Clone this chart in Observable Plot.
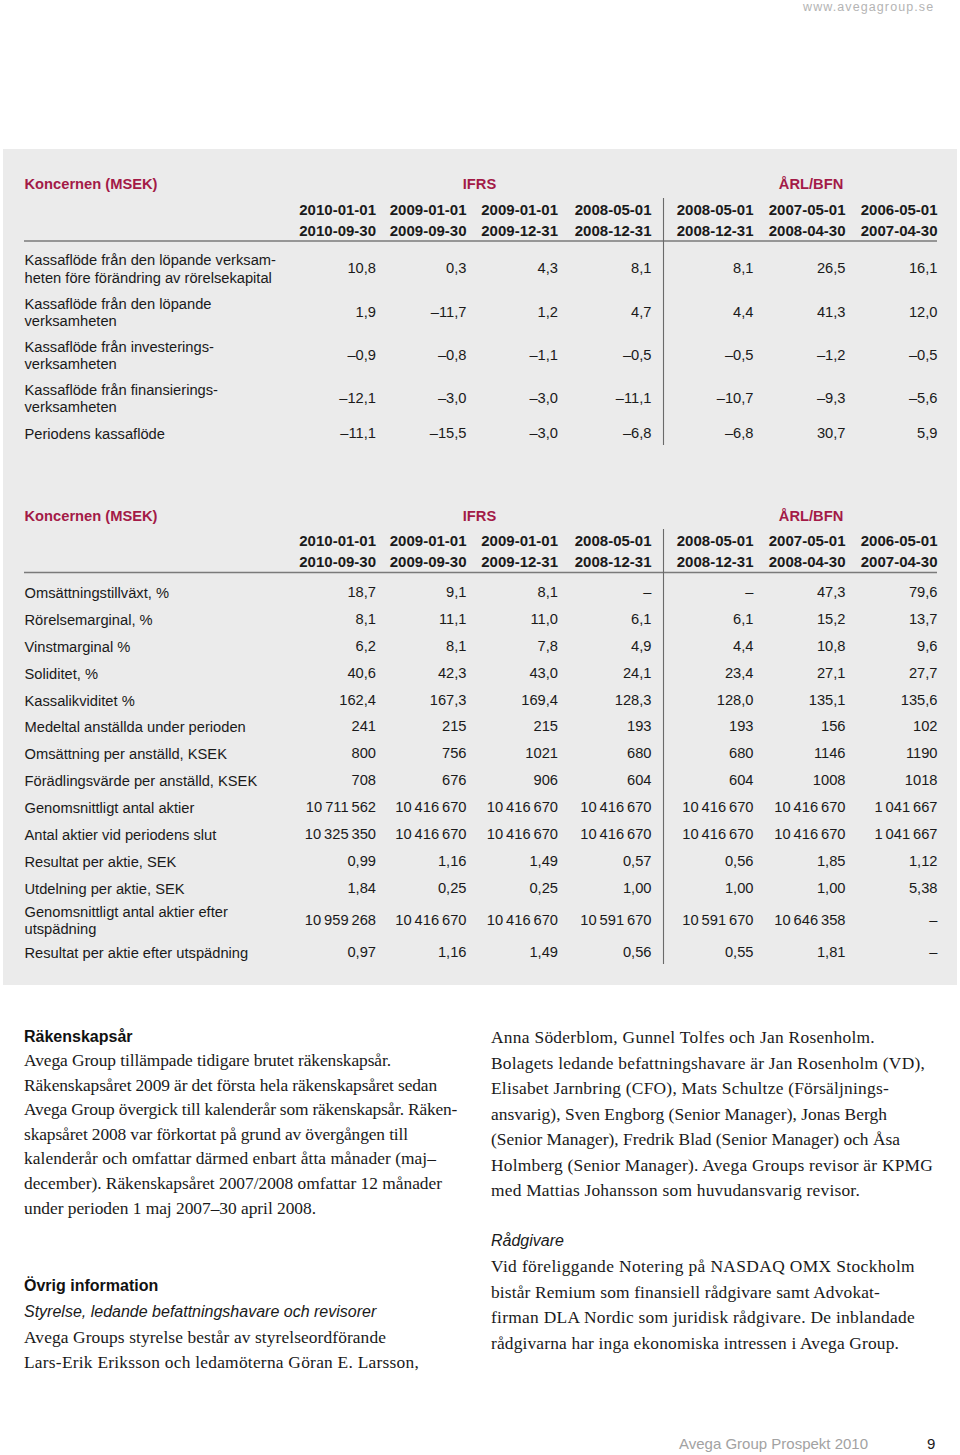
<!DOCTYPE html>
<html><head><meta charset="utf-8">
<script src="https://cdn.jsdelivr.net/npm/d3@7"></script>
<script src="https://cdn.jsdelivr.net/npm/@observablehq/plot@0.6"></script>
<style>
html,body{margin:0;padding:0;background:#fff;}
#page{position:relative;width:960px;height:1455px;overflow:hidden;font-family:"Liberation Sans",Arial,Helvetica,sans-serif;color:#1a1a1a;}
#panel{position:absolute;left:3px;top:149px;width:954px;height:836px;background:#ebebeb;}
.abs{position:absolute;white-space:nowrap;height:24px;line-height:24px;}
.serif{font-family:"Liberation Serif","Times New Roman",serif;font-size:17.4px;color:#1a1a1a;}
.hd{font-weight:bold;font-size:16px;color:#111;}
.it{font-style:italic;font-size:16px;color:#1a1a1a;}
.chart{position:absolute;left:0;}
#url{position:absolute;left:803px;top:1px;font-size:12.5px;letter-spacing:1.1px;color:#b4b4b4;line-height:13px;}
.foot{font-size:15px;color:#a2a2a2;}
.pageno{font-size:15px;color:#1a1a1a;}
</style></head>
<body><div id="page">
<div id="url">www.avegagroup.se</div>
<div id="panel"></div>
<div id="t1" class="chart" style="top:150px"></div>
<div id="t2" class="chart" style="top:490px"></div>
</div>
<script>
// ---------- data ----------
const tableTitle = "Koncernen (MSEK)";
const standards = ["IFRS", "ÅRL/BFN"];
const periodStart = ["2010-01-01","2009-01-01","2009-01-01","2008-05-01","2008-05-01","2007-05-01","2006-05-01"];
const periodEnd   = ["2010-09-30","2009-09-30","2009-12-31","2008-12-31","2008-12-31","2008-04-30","2007-04-30"];

const cashFlowLabels = [
  "Kassaflöde från den löpande verksam-\nheten före förändring av rörelsekapital",
  "Kassaflöde från den löpande\nverksamheten",
  "Kassaflöde från investerings-\nverksamheten",
  "Kassaflöde från finansierings-\nverksamheten",
  "Periodens kassaflöde"
];
const cashFlowValues = [
  [10.8, 0.3, 4.3, 8.1, 8.1, 26.5, 16.1],
  [1.9, -11.7, 1.2, 4.7, 4.4, 41.3, 12.0],
  [-0.9, -0.8, -1.1, -0.5, -0.5, -1.2, -0.5],
  [-12.1, -3.0, -3.0, -11.1, -10.7, -9.3, -5.6],
  [-11.1, -15.5, -3.0, -6.8, -6.8, 30.7, 5.9]
];
const cashFlowDecimals = [1, 1, 1, 1, 1];

const keyRatioLabels = [
  "Omsättningstillväxt, %",
  "Rörelsemarginal, %",
  "Vinstmarginal %",
  "Soliditet, %",
  "Kassalikviditet %",
  "Medeltal anställda under perioden",
  "Omsättning per anställd, KSEK",
  "Förädlingsvärde per anställd, KSEK",
  "Genomsnittligt antal aktier",
  "Antal aktier vid periodens slut",
  "Resultat per aktie, SEK",
  "Utdelning per aktie, SEK",
  "Genomsnittligt antal aktier efter\nutspädning",
  "Resultat per aktie efter utspädning"
];
const keyRatioValues = [
  [18.7, 9.1, 8.1, null, null, 47.3, 79.6],
  [8.1, 11.1, 11.0, 6.1, 6.1, 15.2, 13.7],
  [6.2, 8.1, 7.8, 4.9, 4.4, 10.8, 9.6],
  [40.6, 42.3, 43.0, 24.1, 23.4, 27.1, 27.7],
  [162.4, 167.3, 169.4, 128.3, 128.0, 135.1, 135.6],
  [241, 215, 215, 193, 193, 156, 102],
  [800, 756, 1021, 680, 680, 1146, 1190],
  [708, 676, 906, 604, 604, 1008, 1018],
  [10711562, 10416670, 10416670, 10416670, 10416670, 10416670, 1041667],
  [10325350, 10416670, 10416670, 10416670, 10416670, 10416670, 1041667],
  [0.99, 1.16, 1.49, 0.57, 0.56, 1.85, 1.12],
  [1.84, 0.25, 0.25, 1.00, 1.00, 1.00, 5.38],
  [10959268, 10416670, 10416670, 10591670, 10591670, 10646358, null],
  [0.97, 1.16, 1.49, 0.56, 0.55, 1.81, null]
];
const keyRatioDecimals = [1, 1, 1, 1, 1, 0, 0, 0, 0, 0, 2, 2, 0, 2];

// ---------- formatting ----------
const sv = d3.formatLocale({decimal: ",", thousands: "\u2009", grouping: [3], currency: ["", ""], minus: "\u2013"});
function fmt(v, d) {
  if (v == null) return "\u2013";
  return sv.format((Math.abs(v) >= 10000 ? "," : "") + "." + d + "f")(v);
}

const RED = "#a31a47";
const INK = "#1a1a1a";
const cols = periodStart.map((_, i) => "c" + i);

function drawTable(el, {labels, values, decimals, top, height, ys}) {
  const rows = labels.map((_, i) => "r" + i);
  const cells = [];
  values.forEach((row, i) => row.forEach((v, j) => cells.push({row: rows[i], col: cols[j], text: fmt(v, decimals[i])})));
  const labelCells = labels.map((t, i) => ({row: rows[i], col: "label", text: t}));
  const headers = cols.flatMap((c, j) => [
    {row: "h1", col: c, text: periodStart[j]},
    {row: "h2", col: c, text: periodEnd[j]}
  ]);
  const groups = standards.map(s => ({row: "title", col: s, text: s}));
  const titles = [{row: "title", col: "label", text: tableTitle}];

  const xDomain = ["label", ...cols, ...standards, "divider"];
  const xRange = [24, 375.5, 466, 557.5, 651, 753, 845, 937, 479, 810.5, 663];
  const yDomain = ["title", "h1", "h2", "rule", ...rows, "divTop", "divBottom"];
  const yRange = ys.map(y => y - top);

  const chart = Plot.plot({
    width: 960, height, margin: 0,
    x: {type: "ordinal", domain: xDomain, range: xRange, axis: null},
    y: {type: "ordinal", domain: yDomain, range: yRange, axis: null},
    style: {background: "transparent", fontFamily: "'Liberation Sans', Arial, Helvetica, sans-serif", overflow: "visible", color: INK},
    marks: [
      Plot.ruleY([{row: "rule"}], {y: "row", x1: () => "label", x2: () => "c6", stroke: "#7a7a7a", strokeWidth: 1.6}),
      Plot.ruleX([{col: "divider"}], {x: "col", y1: () => "divTop", y2: () => "divBottom", stroke: "#6a6a6a", strokeWidth: 1.1}),
      Plot.text(titles, {x: "col", y: "row", text: "text", textAnchor: "start", fill: RED, fontWeight: "bold", fontSize: 14.7}),
      Plot.text(groups, {x: "col", y: "row", text: "text", textAnchor: "middle", fill: RED, fontWeight: "bold", fontSize: 14.7}),
      Plot.text(headers, {x: "col", y: "row", text: "text", textAnchor: "end", fill: INK, fontWeight: "bold", fontSize: 15}),
      Plot.text(labelCells, {x: "col", y: "row", text: "text", textAnchor: "start", fill: INK, fontSize: 14.7, lineHeight: 1.17}),
      Plot.text(cells, {x: "col", y: "row", text: "text", textAnchor: "end", fill: INK, fontSize: 14.7})
    ]
  });
  document.getElementById(el).appendChild(chart);
}

drawTable("t1", {
  labels: cashFlowLabels, values: cashFlowValues, decimals: cashFlowDecimals,
  top: 150, height: 310,
  ys: [184, 209.5, 230.5, 240.5, 268, 311.5, 354.5, 397.5, 432.5, 198, 445]
});
drawTable("t2", {
  labels: keyRatioLabels, values: keyRatioValues, decimals: keyRatioDecimals,
  top: 490, height: 490,
  ys: [516, 540.5, 561.5, 572, 591.5, 618.5, 645.5, 672.5, 699.5, 726, 752.5, 779.5, 806.5, 833.5, 860.5, 887.5, 919.5, 951.5, 529, 964]
});

// ---------- text below the tables ----------
const page = document.getElementById("page");
function line(text, x, y, cls, right) {
  const d = document.createElement("div");
  d.className = "abs " + cls;
  d.style.left = x + "px";
  d.style.top = (y - 12) + "px";
  d.textContent = text;
  page.appendChild(d);
  if (right) {
    const w = d.getBoundingClientRect().width;
    const ls = (right - x - w) / text.length;
    d.style.letterSpacing = Math.max(-0.6, Math.min(0.8, ls)) + "px";
  }
}
line("Räkenskapsår", 24, 1037, "hd");
[
  ["Avega Group tillämpade tidigare brutet räkenskapsår.", 391],
  ["Räkenskapsåret 2009 är det första hela räkenskapsåret sedan", 437],
  ["Avega Group övergick till kalenderår som räkenskapsår. Räken-", 457],
  ["skapsåret 2008 var förkortat på grund av övergången till", 408],
  ["kalenderår och omfattar därmed enbart åtta månader (maj–", 436],
  ["december). Räkenskapsåret 2007/2008 omfattar 12 månader", 442],
  ["under perioden 1 maj 2007–30 april 2008.", 316]
].forEach(([t, r], i) => line(t, 24, 1060 + i * 24.6, "serif", r));
line("Övrig information", 24, 1286, "hd");
line("Styrelse, ledande befattningshavare och revisorer", 24, 1312, "it");
[
  ["Avega Groups styrelse består av styrelseordförande", 386],
  ["Lars-Erik Eriksson och ledamöterna Göran E. Larsson,", 419]
].forEach(([t, r], i) => line(t, 24, 1337 + i * 25, "serif", r));
[
  ["Anna Söderblom, Gunnel Tolfes och Jan Rosenholm.", 875],
  ["Bolagets ledande befattningshavare är Jan Rosenholm (VD),", 925],
  ["Elisabet Jarnbring (CFO), Mats Schultze (Försäljnings-", 889],
  ["ansvarig), Sven Engborg (Senior Manager), Jonas Bergh", 887],
  ["(Senior Manager), Fredrik Blad (Senior Manager) och Åsa", 900],
  ["Holmberg (Senior Manager). Avega Groups revisor är KPMG", 933],
  ["med Mattias Johansson som huvudansvarig revisor.", 860]
].forEach(([t, r], i) => line(t, 491, 1037 + i * 25.5, "serif", r));
line("Rådgivare", 491, 1241, "it");
[
  ["Vid föreliggande Notering på NASDAQ OMX Stockholm", 915],
  ["bistår Remium som finansiell rådgivare samt Advokat-", 880],
  ["firman DLA Nordic som juridisk rådgivare. De inblandade", 915],
  ["rådgivarna har inga ekonomiska intressen i Avega Group.", 899]
].forEach(([t, r], i) => line(t, 491, 1266 + i * 25.6, "serif", r));
line("Avega Group Prospekt 2010", 679, 1444, "foot");
line("9", 927, 1444, "pageno");
</script>
</body></html>
